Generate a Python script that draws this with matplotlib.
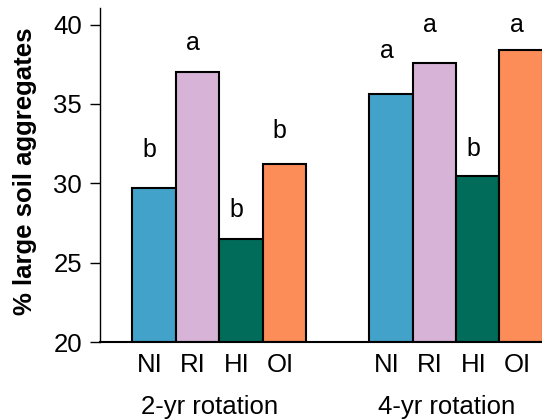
import matplotlib
matplotlib.use("Agg")
import matplotlib.pyplot as plt
import matplotlib.transforms as mtransforms

plt.rcParams['font.family'] = ['Liberation Sans', 'DejaVu Sans']

groups = ["2-yr rotation", "4-yr rotation"]
treatments = ["NI", "RI", "HI", "OI"]
colors = ["#43a2ca", "#d7b3d8", "#016c59", "#fc8d59"]
values_2yr = [29.7, 37.0, 26.5, 31.2]
values_4yr = [35.6, 37.6, 30.45, 38.4]
letters_2yr = ["b", "a", "b", "b"]
letters_4yr = ["a", "a", "b", "a"]
letter_y_2yr = [31.65, 38.4, 27.9, 32.85]
letter_y_4yr = [37.9, 39.5, 31.7, 39.5]
yticks = [20, 25, 30, 35, 40]

fig = plt.figure(figsize=(5.42, 4.19), dpi=100)
ax = fig.add_axes([100/542, 77/419, 442/542, (342-8)/419])

group_offsets = [0.0, 5.46]
all_vals = [values_2yr, values_4yr]
all_letters = [letters_2yr, letters_4yr]
all_ly = [letter_y_2yr, letter_y_4yr]
tick_pos, tick_lab = [], []
blend = mtransforms.blended_transform_factory(ax.transData, ax.transAxes)
for g, off in enumerate(group_offsets):
    xs = [off + i for i in range(len(treatments))]
    ax.bar(xs, [v - 20 for v in all_vals[g]], bottom=20, width=1.0, color=colors,
           edgecolor="black", linewidth=1.5, clip_on=True, zorder=2)
    for x, lt, ly in zip(xs, all_letters[g], all_ly[g]):
        ax.text(x - 0.1, ly, lt, ha="center", va="baseline", fontsize=18)
    tick_pos += [x - 0.1 for x in xs]
    tick_lab += treatments
    ax.text(off + 1.5 - 0.22, -0.195, groups[g], transform=blend,
            ha="center", va="center", fontsize=18.5)

ax.set_xlim(-1.245, 8.94)
ax.set_ylim(20, 41.04)
ax.set_yticks(yticks)
ax.set_xticks(tick_pos)
ax.set_xticklabels(tick_lab, fontsize=18.5)
ax.tick_params(axis="x", length=0, pad=8)
ax.tick_params(axis="y", labelsize=18.5, length=7, width=1, direction="out", pad=6)
for s in ["top", "right"]:
    ax.spines[s].set_visible(False)
ax.spines["left"].set_linewidth(1)
ax.spines["bottom"].set_linewidth(1.5)
ax.set_ylabel("% large soil aggregates", fontsize=18.5, fontweight="bold")
ax.yaxis.set_label_coords(-63/442, 0.51)

fig.savefig("out.png", dpi=100)
